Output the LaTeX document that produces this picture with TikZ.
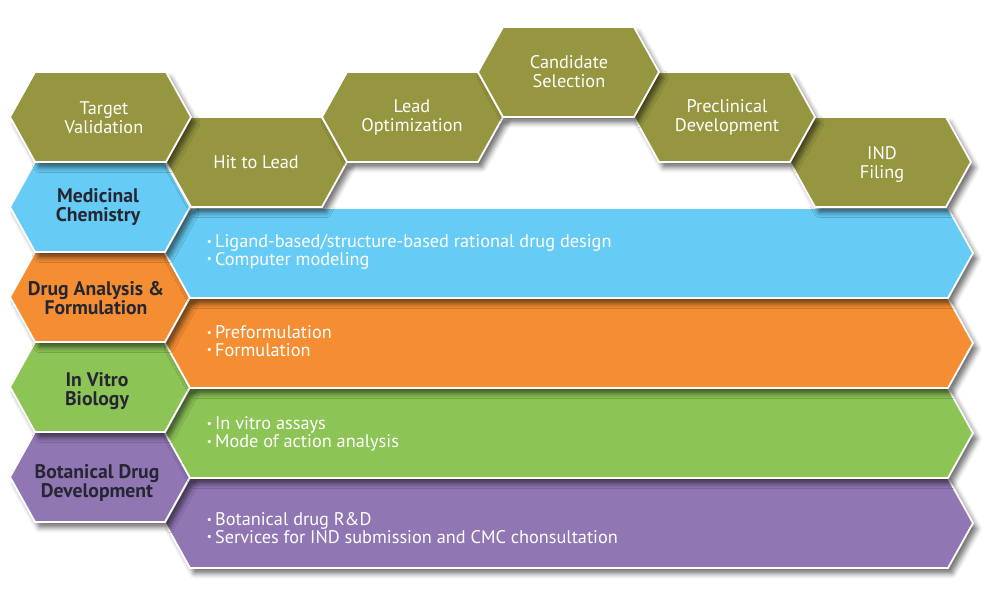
\documentclass[tikz,border=0pt]{standalone}
\usepackage{fontspec}
\setmainfont{PT Sans}
\usepackage{tikz}
\usetikzlibrary{positioning,shadows.blur}
\definecolor{stagecolor}{RGB}{150,150,64}
\definecolor{chemcolor}{RGB}{102,204,245}
\definecolor{formcolor}{RGB}{245,142,50}
\definecolor{biocolor}{RGB}{140,196,86}
\definecolor{botcolor}{RGB}{145,118,180}
\definecolor{labelcolor}{RGB}{38,38,50}
% hexagon cell: left point x, right point x, top y, fill colour
\newcommand{\hexcell}[4]{\path[cell,fill=#4] (#1,#3+45) -- (#1+25,#3) -- (#2-25,#3) -- (#2,#3+45) -- (#2-25,#3+90) -- (#1+25,#3+90) -- cycle;}
\newcommand{\itm}{\raisebox{1.6pt}{\fontsize{8}{8}\selectfont\textbullet}\,}

\begin{document}
\begin{tikzpicture}[x=0.025cm,y=-0.025cm,
cell/.style={draw=white,line width=1.3pt,line join=miter,blur shadow={shadow xshift=3pt,shadow yshift=-4pt,shadow blur radius=3.5pt,shadow opacity=55}},
stage/.style={align=center,text=white,font=\fontsize{13}{13.5}\selectfont},
area/.style={align=center,text=labelcolor,font=\fontsize{14}{13.5}\selectfont\bfseries},
items/.style={align=left,anchor=west,text=white,font=\fontsize{13}{12.3}\selectfont}]
\useasboundingbox (0,0) rectangle (1000,599);
% service bands and row labels, bottom row first
\hexcell{165}{973}{478}{botcolor} \hexcell{10}{190}{432}{botcolor}
\hexcell{165}{973}{388}{biocolor} \hexcell{10}{190}{342}{biocolor}
\hexcell{165}{973}{298}{formcolor} \hexcell{10}{190}{252}{formcolor}
\hexcell{165}{973}{208}{chemcolor} \hexcell{10}{190}{162}{chemcolor}
% pipeline stages
\hexcell{790}{971}{117}{stagecolor} \hexcell{166}{347}{117}{stagecolor}
\hexcell{10}{191}{72}{stagecolor} \hexcell{322}{503}{72}{stagecolor}
\hexcell{634}{815}{72}{stagecolor} \hexcell{478}{659}{27}{stagecolor}
\node[stage](tv) at (104,118){Target\\Validation};
\node[stage](htl) at (256,162){Hit to Lead};
\node[stage](lo) at (412,117){Lead\\Optimization};
\node[stage](cs) at (569,72){Candidate\\Selection};
\node[stage](pd) at (727,117){Preclinical\\Development};
\node[stage](ind) at (882,164){IND\\Filing};
\node[area](mc) at (98,207){Medicinal\\Chemistry};
\node[area](daf) at (96,298){Drug Analysis \&\\Formulation};
\node[area](ivb) at (97,391){In Vitro\\Biology};
\node[area](bdd) at (97,483){Botanical Drug\\Development};
\node[items](mcl) at (202,252){\itm Ligand-based/structure-based rational drug design\\\itm Computer modeling};
\node[items](dafl) at (202,341){\itm Preformulation\\\itm Formulation};
\node[items](ivbl) at (202,434){\itm In vitro assays\\\itm Mode of action analysis};
\node[items](bddl) at (202,528){\itm Botanical drug R\&D\\\itm Services for IND submission and CMC chonsultation};
\end{tikzpicture}
\end{document}
